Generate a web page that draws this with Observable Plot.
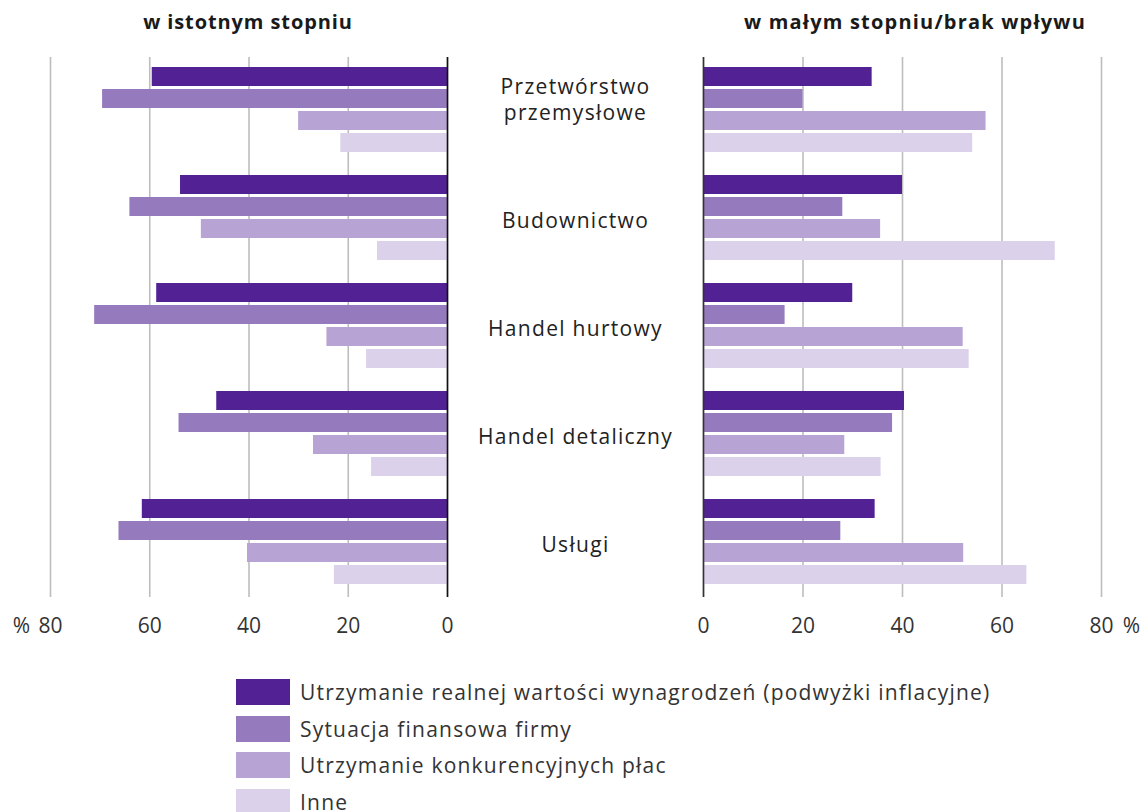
<!DOCTYPE html>
<html><head><meta charset="utf-8">
<script src="https://cdn.jsdelivr.net/npm/d3@7"></script>
<script src="https://cdn.jsdelivr.net/npm/@observablehq/plot@0.6"></script>
<style>
body{margin:0;background:#fff;font-family:"Open Sans",sans-serif;}
#wrap{position:relative;width:1144px;height:812px;overflow:hidden;}
.title{position:absolute;top:8px;font-weight:700;font-size:20px;color:#1a1a1a;transform:translateX(-50%);white-space:nowrap;}
#t1{letter-spacing:0.9px} #t2{letter-spacing:1.2px}
#left,#right{position:absolute;top:0;}
#left{left:0px} #right{left:690px}
#legend{position:absolute;left:236px;top:679px;}
.item{display:flex;align-items:center;height:26px;margin-bottom:10.5px;font-size:21px;color:#333;white-space:nowrap;letter-spacing:1.2px}
.sw{width:54px;height:26px;margin-right:10px;flex:none}
.cat{letter-spacing:1.3px}
</style></head>
<body><div id="wrap">
<div class="title" id="t1" style="left:248px">w istotnym stopniu</div>
<div class="title" id="t2" style="left:915px">w małym stopniu/brak wpływu</div>
<div id="left"></div><div id="right"></div>
<div id="legend"></div>
</div>
<script>
const sectors = ["Przetwórstwo przemysłowe", "Budownictwo", "Handel hurtowy", "Handel detaliczny", "Usługi"];
const sectorLabels = ["Przetwórstwo\nprzemysłowe", "Budownictwo", "Handel hurtowy", "Handel detaliczny", "Usługi"];
const series = [
  "Utrzymanie realnej wartości wynagrodzeń (podwyżki inflacyjne)",
  "Sytuacja finansowa firmy",
  "Utrzymanie konkurencyjnych płac",
  "Inne"
];
const colors = ["#522295", "#957abd", "#b8a4d4", "#dbd1ea"];
const xTicks = [0, 20, 40, 60, 80];

// "w istotnym stopniu" (per sector)
const sigWages       = [59.5, 53.8, 58.6, 46.5, 61.5];
const sigFinance     = [69.5, 64.0, 71.1, 54.1, 66.2];
const sigCompetitive = [30.0, 49.6, 24.3, 27.0, 40.3];
const sigOther       = [21.5, 14.1, 16.3, 15.3, 22.8];

// "w małym stopniu/brak wpływu" (per sector)
const lowWages       = [33.9, 40.0, 30.0, 40.4, 34.5];
const lowFinance     = [20.0, 28.0, 16.4, 38.0, 27.6];
const lowCompetitive = [56.8, 35.6, 52.2, 28.4, 52.3];
const lowOther       = [54.1, 70.7, 53.4, 35.7, 65.0];

function rows(arrays) {
  const out = [];
  sectors.forEach((s, i) => arrays.forEach((a, j) => out.push({sector: s, series: series[j], value: a[i]})));
  return out;
}
const sigRows = rows([sigWages, sigFinance, sigCompetitive, sigOther]);
const lowRows = rows([lowWages, lowFinance, lowCompetitive, lowOther]);

function panel(data, left) {
  const marks = [
    Plot.gridX(xTicks, {stroke: "#bdbdbd", strokeOpacity: 1, strokeWidth: 1.6}),
    Plot.barX(data, {x: "value", y: "series", fy: "sector", fill: "series"}),
    Plot.ruleX([0], {stroke: left ? "#111" : "#333", strokeWidth: 1.6}),
    Plot.axisX(xTicks, {tickSize: 0, tickPadding: 21, fill: "#333", fontSize: 21}),
    Plot.text(["%"], {x: [80], fy: [sectors[sectors.length - 1]], frameAnchor: "bottom", dy: 35, dx: left ? -29 : 30, fill: "#333", fontSize: 21})
  ];
  if (left) {
    marks.push(Plot.text(sectorLabels, {x: [0, 0, 0, 0, 0], fy: sectors, text: d => d, frameAnchor: "middle", lineAnchor: "bottom", dy: 8, dx: 128, fill: "#222", fontSize: 21, lineHeight: 1.2, className: "cat"}));
  }
  return Plot.plot({
    width: left ? 690 : 454,
    height: 650,
    marginTop: 57,
    marginBottom: 53,
    marginLeft: left ? 50 : 13,
    marginRight: left ? 243 : 43,
    style: {fontFamily: "'Open Sans', sans-serif", fontSize: "21px", color: "#333", background: "transparent", overflow: "visible"},
    x: {domain: [0, 80], reverse: left, label: null},
    y: {domain: series, axis: null, paddingInner: 0.14, paddingOuter: 0.45, align: 0.42},
    fy: {domain: sectors, axis: null, padding: 0},
    color: {domain: series, range: colors},
    marks
  });
}

document.getElementById("left").append(panel(sigRows, true));
document.getElementById("right").append(panel(lowRows, false));

const leg = document.getElementById("legend");
series.forEach((s, i) => {
  const it = document.createElement("div");
  it.className = "item";
  const sw = document.createElement("span");
  sw.className = "sw";
  sw.style.background = colors[i];
  const tx = document.createElement("span");
  tx.textContent = s;
  it.append(sw, tx);
  leg.append(it);
});
</script>
</body></html>
